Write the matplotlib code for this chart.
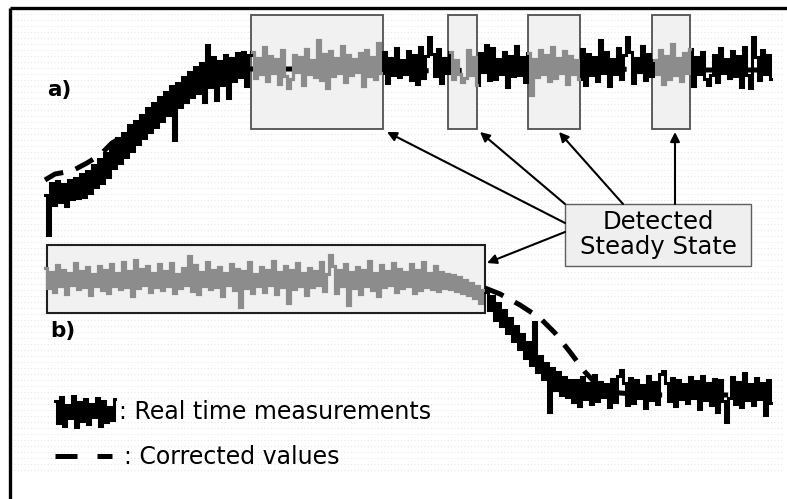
import numpy as np
import matplotlib
matplotlib.use("Agg")
import matplotlib.pyplot as plt
from matplotlib.patches import Rectangle

# ---------------- data ----------------
# time axis of both traces (sample every 3 units)
t = np.arange(45, 772, 3)

# a) start-up: measurement rising to a plateau
meas_a_rise = [195, 235, 183, 205, 181, 202, 184, 206, 180, 199, 178, 198, 174, 197,
               171, 193, 165, 187, 159, 183, 153, 177, 145, 168, 138, 163, 133, 157,
               125, 151, 121, 144, 115, 138, 108, 132, 103, 127, 97, 121, 92, 115,
               86, 140, 83, 107, 77, 102, 72, 97, 67, 93, 63, 102, 45, 87, 57, 100,
               61, 85, 55, 98, 58, 81, 53, 77, 52, 86, 55]
meas_a_plateau = [52, 78, 58, 74, 47, 81, 56, 73, 59, 84, 50, 76, 88, 79, 55, 72, 57, 85, 49, 74,
                  60, 77, 40, 80, 54, 88, 51, 76, 58, 73, 46, 82, 55, 75, 59, 72, 53, 86, 50, 76,
                  57, 79, 43, 73, 52, 83, 58, 75, 48, 77, 60, 74, 51, 80, 55, 84, 47, 78, 56, 37,
                  54, 76, 49, 83, 58, 73, 52, 79, 60, 74, 82, 78, 50, 75, 57, 85, 53, 72, 45, 80,
                  48, 79, 59, 74, 52, 87, 56, 76, 46, 75, 57, 82, 53, 95, 59, 77, 50, 74, 55, 81,
                  47, 78, 58, 73, 51, 84, 56, 74, 60, 79, 49, 85, 54, 75, 57, 81, 40, 73, 52, 86,
                  59, 74, 48, 79, 55, 37, 52, 83, 58, 72, 46, 80, 54, 76, 60, 74, 50, 84, 56, 79,
                  44, 75, 58, 81, 53, 73, 49, 86, 57, 74, 52, 79, 85, 75, 55, 82, 48, 73, 59, 78,
                  51, 76, 56, 87, 47, 75, 88, 37, 57, 80, 50, 74, 55, 79]
meas_a = np.array(meas_a_rise + meas_a_plateau)

corr_a_t = [45, 55, 72, 87, 100, 112, 127, 150, 175, 200, 225, 250, 300, 400, 500, 600, 700, 770]
corr_a = [180, 174, 171, 163, 155, 143, 134, 117, 97, 82, 73, 69, 69, 71, 70, 69, 70, 70]

# b) shut-down: plateau, then falling to a lower plateau
meas_b_plateau = [268, 288, 272, 292, 265, 286, 270, 294, 273, 285, 263, 289, 271, 287, 267, 295, 274, 286, 266, 290,
                  270, 293, 264, 286, 273, 289, 262, 287, 271, 296, 260, 288, 269, 285, 266, 292, 273, 287, 264, 290,
                  271, 286, 263, 293, 274, 288, 268, 285, 256, 291, 265, 294, 272, 286, 262, 289, 270, 287, 267, 296,
                  273, 285, 264, 290, 269, 307, 271, 288, 262, 293, 274, 286, 267, 292, 270, 285, 261, 294, 272, 287,
                  266, 303, 270, 289, 263, 286, 273, 295, 268, 287, 271, 285, 262, 291, 274, 255, 266, 293, 270, 286,
                  264, 305, 272, 288, 267, 294, 270, 286, 261, 290, 273, 296, 265, 287, 271, 285, 263, 292, 269, 288,
                  272, 286, 264, 293, 270, 290, 262, 287, 273, 289, 266, 291]
meas_b_fall = [272, 288, 274, 289, 275, 291, 277, 293, 280, 295, 283, 298, 286, 303, 290,
               292, 310, 296, 320, 303, 326, 310, 333, 318, 341, 326, 349, 334, 358, 342,
               365, 322, 372, 356, 379, 363, 412, 368, 390, 372, 395, 377, 397, 380]
meas_b_low = [402, 380, 406, 377, 399, 383, 404, 375, 401, 382,
              397, 384, 407, 379, 402, 376, 370, 383, 405, 378,
              403, 380, 398, 385, 408, 376, 400, 382, 404, 374,
              371, 383, 401, 378, 406, 380, 399, 384, 403, 377,
              398, 381, 409, 376, 400, 383, 405, 379, 412, 380,
              401, 422, 398, 377, 404, 382, 407, 373, 400, 384,
              405, 378, 399, 383, 415, 380, 403]
meas_b = np.array(meas_b_plateau + meas_b_fall + meas_b_low)

corr_b_t = [485, 500, 520, 540, 555, 570, 585, 600, 620, 650, 700, 770]
corr_b = [288, 294, 305, 318, 333, 352, 372, 388, 393, 395, 395, 395]

# detected steady-state windows (start, end)
steady_a = [(251, 383), (448, 477), (528, 580), (652, 690)]
steady_b = [(47, 485)]

# legend sample of a measurement trace
legend_t = np.arange(55, 116, 3)
legend_meas = [401, 423, 397, 426, 405, 418, 396, 427, 402, 421, 399,
               424, 404, 417, 398, 426, 401, 422, 407, 420, 399]

# ---------------- drawing ----------------
W, H = 787, 499
fig = plt.figure(figsize=(W / 100, H / 100), dpi=100)
ax = fig.add_axes([0, 0, 1, 1])
ax.set_xlim(0, W)
ax.set_ylim(H, 0)
ax.axis("off")

FONT = "DejaVu Sans"
BLACK = "#000000"
GREY = "#8c8c8c"
TRACE = dict(lw=2.2, drawstyle="steps-mid", solid_joinstyle="miter")

# faint dotted background
for y in np.arange(14, 474, 6):
    ax.plot([14, 782], [y, y], color="#d8d8d8", lw=0.6,
            linestyle=(0, (1, 3)), zorder=0)

# frame
ax.plot([10, 10], [H, 8], color=BLACK, lw=2.4, solid_capstyle="butt", zorder=6)
ax.plot([10, W], [8, 8], color=BLACK, lw=2.4, solid_capstyle="butt", zorder=6)

# steady-state windows
win_top, win_bot = 15, 129
for x0, x1 in steady_a:
    ax.add_patch(Rectangle((x0, win_top), x1 - x0, win_bot - win_top,
                           facecolor="#f1f1f1", edgecolor="#505050", lw=1.3, zorder=1))
for x0, x1 in steady_b:
    ax.add_patch(Rectangle((x0, 245), x1 - x0, 313 - 245,
                           facecolor="#f1f1f1", edgecolor="#202020", lw=1.5, zorder=1))

dash = (0, (4.0, 2.6))
# corrected values
ax.plot(corr_a_t, corr_a, color=BLACK, lw=3.6, linestyle=dash,
        dash_capstyle="butt", zorder=2)
ax.plot(corr_b_t, corr_b, color=BLACK, lw=3.6, linestyle=dash,
        dash_capstyle="butt", zorder=2)

# measurements
ax.plot(t, meas_a, color=BLACK, zorder=3, **TRACE)
for x0, x1 in steady_a:
    m = (t >= x0) & (t <= x1)
    ax.plot(t[m], meas_a[m], color=GREY, zorder=3.5, **TRACE)

ax.plot(t, meas_b, color=BLACK, zorder=3, **TRACE)
for x0, x1 in steady_b:
    m = (t >= x0 - 3) & (t <= x1)
    ax.plot(t[m], meas_b[m], color=GREY, zorder=3.5, **TRACE)

# panel labels
ax.text(47, 90, "a)", fontsize=15.5, fontweight="bold", family=FONT,
        ha="left", va="center", zorder=5)
ax.text(50, 331, "b)", fontsize=15.5, fontweight="bold", family=FONT,
        ha="left", va="center", zorder=5)

# callout box
ax.add_patch(Rectangle((565, 204), 186, 62, facecolor="#efefef",
                       edgecolor="#606060", lw=1.0, zorder=4))
ax.text(658, 222, "Detected", fontsize=17.5, family=FONT,
        ha="center", va="center", zorder=5)
ax.text(658, 247, "Steady State", fontsize=17.5, family=FONT,
        ha="center", va="center", zorder=5)

arrow = dict(arrowstyle="-|>", color=BLACK, lw=1.5,
             mutation_scale=14, shrinkA=0, shrinkB=0)
for tip, base in [((387, 132), (565, 223)),
                  ((480, 132), (565, 204)),
                  ((559, 132), (623, 204)),
                  ((675, 132), (675, 204)),
                  ((487, 263), (565, 232))]:
    ax.annotate("", xy=tip, xytext=base, arrowprops=arrow, zorder=4)

# legend
ax.plot(legend_t, legend_meas, color=BLACK, zorder=3, **TRACE)
ax.text(119, 412, ": Real time measurements", fontsize=17, family=FONT,
        ha="left", va="center", zorder=5)
ax.plot([55, 112], [456, 456], color=BLACK, lw=3.6,
        linestyle=(0, (4.4, 4.0)), dash_capstyle="butt", zorder=3)
ax.text(124, 457, ": Corrected values", fontsize=17, family=FONT,
        ha="left", va="center", zorder=5)

fig.savefig("out.png", dpi=100)
